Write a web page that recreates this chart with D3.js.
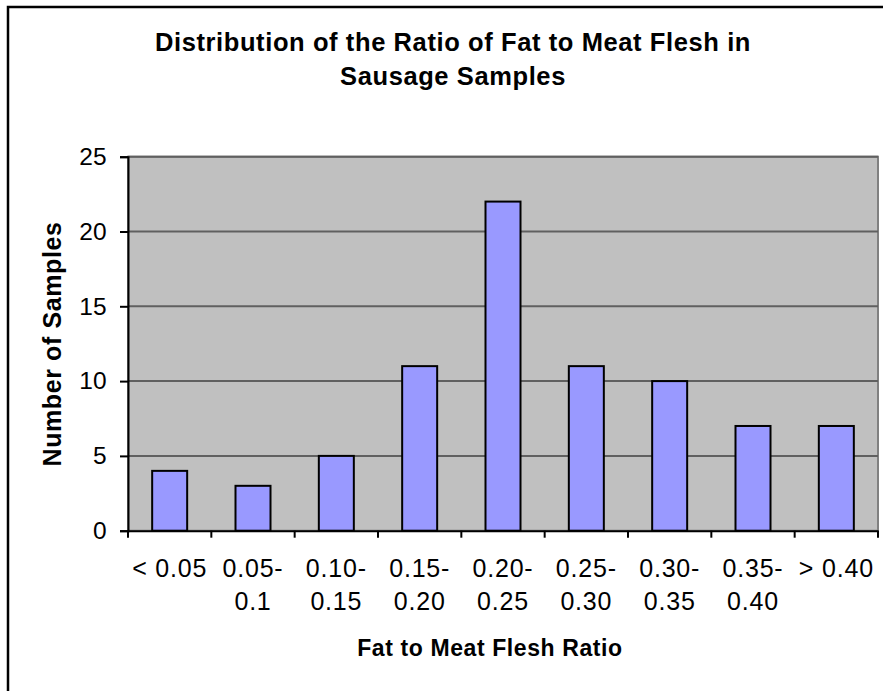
<!DOCTYPE html>
<html><head><meta charset="utf-8">
<script src="https://cdn.jsdelivr.net/npm/d3@7"></script>
<style>body{margin:0;background:#fff}svg{display:block}text{font-family:"Liberation Sans",Arial,sans-serif;fill:#000}</style>
</head><body><svg id="c" width="883" height="691"></svg>
<script>
const categories = [["< 0.05"],["0.05-","0.1"],["0.10-","0.15"],["0.15-","0.20"],["0.20-","0.25"],["0.25-","0.30"],["0.30-","0.35"],["0.35-","0.40"],["> 0.40"]];
const values = [4,3,5,11,22,11,10,7,7];
const yTicks = [0,5,10,15,20,25];
const titleLines = ["Distribution of the Ratio of Fat to Meat Flesh in","Sausage Samples"];
const xTitle = "Fat to Meat Flesh Ratio";
const yTitle = "Number of Samples";

const svg = d3.select("#c");
const L=128,R=878,T=156.7,B=530.7;
svg.append("rect").attr("x",8).attr("y",7).attr("width",1000).attr("height",1000).attr("fill","#fff").attr("stroke","#000").attr("stroke-width",2.5);

const x = d3.scaleBand().domain(d3.range(categories.length)).range([L,R]).paddingInner(0).paddingOuter(0);
const y = d3.scaleLinear().domain([0,25]).range([B,T]);

svg.append("rect").attr("x",L).attr("y",T).attr("width",R-L).attr("height",B-T).attr("fill","#C0C0C0").attr("stroke","#808080").attr("stroke-width",2);

svg.append("g").selectAll("line").data(yTicks.filter(d=>d>0)).join("line")
  .attr("x1",L).attr("x2",R).attr("y1",d=>y(d)).attr("y2",d=>y(d)).attr("stroke","#606060").attr("stroke-width",2);

const bw = x.bandwidth()*0.42;
svg.append("g").selectAll("rect").data(values).join("rect")
  .attr("x",(d,i)=>x(i)+x.bandwidth()/2-bw/2).attr("width",bw)
  .attr("y",d=>y(d)).attr("height",d=>B-y(d))
  .attr("fill","#9999FF").attr("stroke","#000").attr("stroke-width",2);

// y axis
const ya = svg.append("g").attr("transform",`translate(${L},0)`).call(d3.axisLeft(y).tickValues(yTicks).tickSize(8).tickPadding(13));
ya.select(".domain").attr("stroke","#000").attr("stroke-width",2);
ya.selectAll(".tick line").attr("stroke","#000").attr("stroke-width",2);
ya.selectAll(".tick text").attr("font-size",24.5).attr("font-family","Liberation Sans, Arial, sans-serif").attr("letter-spacing",0.3);

// x axis
const xa = svg.append("g").attr("transform",`translate(0,${B})`).call(d3.axisBottom(x).tickSize(0).tickFormat(""));
xa.select(".domain").attr("stroke","#000").attr("stroke-width",2);
xa.selectAll(".tick").remove();
const bounds = d3.range(categories.length+1).map(i=> i<categories.length? x(i): R);
xa.selectAll("line.b").data(bounds).join("line").attr("class","b").attr("x1",d=>d).attr("x2",d=>d).attr("y1",0).attr("y2",7).attr("stroke","#000").attr("stroke-width",2);

svg.append("g").selectAll("text").data(categories).join("text")
  .attr("text-anchor","middle").attr("font-size",25).attr("letter-spacing",0.8)
  .attr("transform",(d,i)=>`translate(${x(i)+x.bandwidth()/2},577)`)
  .selectAll("tspan").data(d=>d).join("tspan").attr("x",0).attr("dy",(d,j)=>j?33:0).text(d=>d);

svg.append("g").selectAll("text").data(titleLines).join("text")
  .attr("x",453).attr("y",(d,i)=>51+i*34).attr("text-anchor","middle").attr("font-size",25.5).attr("font-weight","bold").attr("letter-spacing",0.6).text(d=>d);

svg.append("text").attr("x",490).attr("y",656).attr("text-anchor","middle").attr("font-size",23).attr("font-weight","bold").attr("letter-spacing",0.6).text(xTitle);
svg.append("text").attr("transform","translate(61,344) rotate(-90)").attr("text-anchor","middle").attr("font-size",25).attr("font-weight","bold").attr("letter-spacing",0.6).text(yTitle);
</script></body></html>
